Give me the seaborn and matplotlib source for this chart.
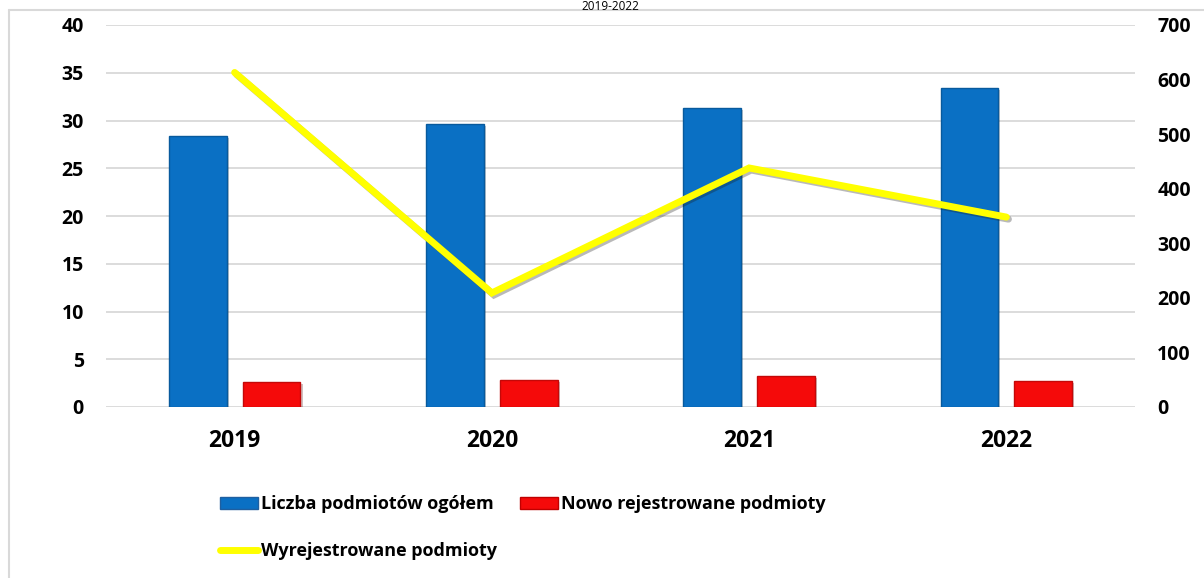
import matplotlib
matplotlib.use("Agg")
import matplotlib.pyplot as plt
import matplotlib.patheffects as pe
from matplotlib.lines import Line2D
from matplotlib.patches import Patch
import seaborn as sns
import pandas as pd
import numpy as np

years = ["2019", "2020", "2021", "2022"]
total_entities = [28.4, 29.6, 31.3, 33.4]
new_registered = [2.6, 2.8, 3.25, 2.75]
deregistered = [613, 209, 438, 348]
label_total = "Liczba podmiotów ogółem"
label_new = "Nowo rejestrowane podmioty"
label_dereg = "Wyrejestrowane podmioty"
title = "2019-2022"
left_ticks = list(range(0, 45, 5))
right_ticks = list(range(0, 800, 100))

sns.set_theme(style="white")
plt.rcParams['font.family'] = ['Open Sans', 'DejaVu Sans']
YFS = 14
XFS = 16.5
LFS = 13

W, H = 1204, 578
fig = plt.figure(figsize=(W / 100, H / 100), dpi=100)
ax = fig.add_axes([106 / W, 1 - 407 / H, (1135 - 106) / W, (407 - 25) / H])

df = pd.DataFrame({
    "year": years * 2,
    "value": total_entities + new_registered,
    "series": [label_total] * 4 + [label_new] * 4,
})
blue = "#0A70C4"
red = "#F50A0A"
sns.barplot(data=df, x="year", y="value", hue="series", ax=ax,
            palette=[blue, red], width=0.574, gap=0.216,
            saturation=1, legend=False, edgecolor="none", zorder=3)
for p in ax.patches:
    fc = p.get_facecolor()
    p.set_edgecolor(tuple(c * 0.8 for c in fc[:3]) + (1,))
    p.set_linewidth(1.0)
    p.set_path_effects([pe.SimplePatchShadow(offset=(1.5, -1.5), alpha=0.25),
                        pe.Normal()])

ax.set_ylim(0, 40)
ax.set_yticks(left_ticks)
ax.set_xlim(-0.5, 3.5)
ax.grid(axis="y", color="#D9D9D9", linewidth=1.3, zorder=0)
ax.set_axisbelow(True)
for s in ax.spines.values():
    s.set_visible(False)
ax.set_xlabel("")
ax.set_ylabel("")
ax.tick_params(axis="y", length=0, pad=16, labelsize=YFS)
ax.tick_params(axis="x", length=0, pad=16, labelsize=XFS)
for t in ax.get_yticklabels() + ax.get_xticklabels():
    t.set_fontweight("bold")
    t.set_color("black")

ax2 = ax.twinx()
ldf = pd.DataFrame({"x": np.arange(len(years)), "v": deregistered})
sns.lineplot(data=ldf, x="x", y="v", ax=ax2, color="#FFFF00", linewidth=5,
             legend=False, zorder=5)
for ln in ax2.lines:
    ln.set_solid_capstyle("round")
    ln.set_solid_joinstyle("miter")
    ln.set_path_effects([pe.SimpleLineShadow(offset=(1.5, -1.5), alpha=0.3),
                         pe.Normal()])
ax2.set_ylim(0, 700)
ax2.set_yticks(right_ticks)
ax2.set_xlim(-0.5, 3.5)
ax2.set_xlabel("")
ax2.set_ylabel("")
for s in ax2.spines.values():
    s.set_visible(False)
ax2.tick_params(axis="y", length=0, pad=16, labelsize=YFS)
for t in ax2.get_yticklabels():
    t.set_fontweight("bold")
    t.set_color("black")
ax2.grid(False)

handles = [Patch(facecolor=blue, edgecolor="#1F5FA0"),
           Line2D([0], [0], color="#FFFF00", linewidth=5, solid_capstyle="round"),
           Patch(facecolor=red, edgecolor="#C00000")]
labels = [label_total, label_dereg, label_new]
leg = fig.legend(handles, labels, ncol=2, loc="upper left",
                 bbox_to_anchor=(213 / W, 1 - 488 / H), frameon=False,
                 prop={"weight": "bold", "size": LFS},
                 handlelength=2.1, handleheight=0.65, handletextpad=0.15,
                 columnspacing=1.3, labelspacing=1.6, borderaxespad=0)
for t in leg.get_texts():
    t.set_color("black")

fig.text(610 / W, 1 - 0.5 / H, title, ha="center", va="top",
         fontsize=8.5, color="black")

fig.add_artist(Line2D([9 / W, 9 / W], [0, 1 - 10 / H], color="#D9D9D9",
                      linewidth=1.5, transform=fig.transFigure))
fig.add_artist(Line2D([9 / W, 1], [1 - 10 / H, 1 - 10 / H], color="#D9D9D9",
                      linewidth=1.5, transform=fig.transFigure))

fig.savefig("out.png", dpi=100)
